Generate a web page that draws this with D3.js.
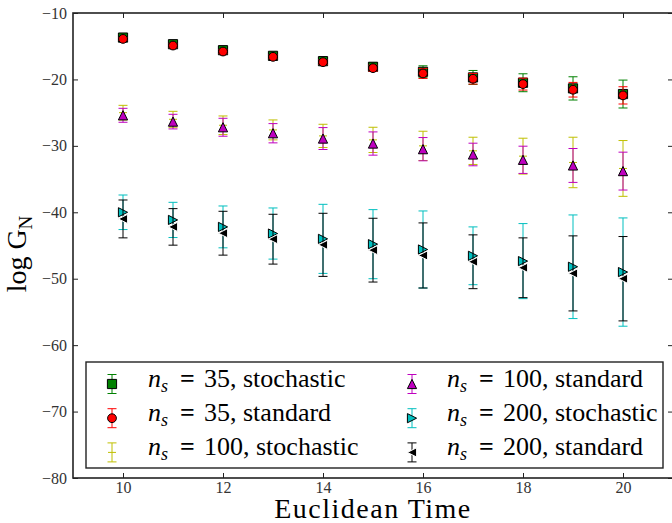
<!DOCTYPE html>
<html>
<head>
<meta charset="utf-8">
<script src="https://cdn.jsdelivr.net/npm/d3@7"></script>
<style>
  body { margin: 0; background: #fff; }
  svg { display: block; }
  svg text { font-family: "Liberation Serif", "Times New Roman", Times, "DejaVu Serif", serif; }
  .axis text { font-size: 16px; fill: #333; }
  .axis line { stroke: #222; stroke-width: 1; }
  .axis path { display: none; }
</style>
</head>
<body>
<svg id="chart" width="672" height="523"></svg>
<script>
(function() {
  var times = [10, 11, 12, 13, 14, 15, 16, 17, 18, 19, 20];

  var ns35Stochastic = [-13.7, -14.7, -15.6, -16.45, -17.25, -18.1, -18.85, -19.7, -20.5, -21.35, -22.2];
  var ns35StochasticErr = [0.3, 0.35, 0.4, 0.45, 0.5, 0.6, 0.9, 1.05, 1.35, 1.75, 2.1];

  var ns35Standard = [-13.9, -14.9, -15.8, -16.6, -17.4, -18.3, -19.1, -19.9, -20.7, -21.55, -22.4];
  var ns35StandardErr = [0.2, 0.25, 0.3, 0.3, 0.35, 0.45, 0.75, 0.8, 0.9, 1.1, 1.3];

  var ns100Stochastic = [-25.0, -26.0, -26.9, -27.6, -28.5, -29.1, -30.0, -30.75, -31.55, -32.5, -33.4];
  var ns100StochasticErr = [1.1, 1.2, 1.4, 1.5, 1.75, 1.9, 2.2, 2.05, 2.7, 3.8, 4.2];

  var ns100Standard = [-25.4, -26.35, -27.2, -28.1, -28.9, -29.65, -30.5, -31.3, -32.1, -32.95, -33.8];
  var ns100StandardErr = [1.05, 1.1, 1.35, 1.45, 1.65, 1.75, 1.75, 1.7, 2.05, 2.55, 2.85];

  var ns200Stochastic = [-40.0, -41.15, -42.2, -43.2, -44.0, -44.8, -45.6, -46.55, -47.35, -48.2, -49.0];
  var ns200StochasticErr = [2.6, 2.65, 3.15, 3.85, 5.2, 5.2, 5.8, 4.35, 5.65, 7.8, 8.15];

  var ns200Standard = [-41.0, -42.2, -43.15, -44.05, -44.9, -45.7, -46.5, -47.45, -48.35, -49.2, -50.0];
  var ns200StandardErr = [2.85, 2.75, 3.3, 3.75, 4.75, 4.8, 4.9, 4.05, 4.5, 5.65, 6.35];

  var xTicks = [10, 12, 14, 16, 18, 20];
  var yTicks = [-80, -70, -60, -50, -40, -30, -20, -10];

  var legendNs = ['35', '35', '100', '100', '200', '200'];
  var legendKinds = ['stochastic', 'standard', 'stochastic', 'standard', 'stochastic', 'standard'];

  var series = [
    { values: ns35Stochastic, errors: ns35StochasticErr, color: '#008000', marker: 'square', fill: '#008000', edge: '#000' },
    { values: ns35Standard, errors: ns35StandardErr, color: '#ff0000', marker: 'circle', fill: '#ff0000', edge: '#000' },
    { values: ns100Stochastic, errors: ns100StochasticErr, color: '#bfbf00', marker: 'hline', fill: 'none', edge: '#bfbf00' },
    { values: ns100Standard, errors: ns100StandardErr, color: '#bf00bf', marker: 'up', fill: '#bf00bf', edge: '#000' },
    { values: ns200Stochastic, errors: ns200StochasticErr, color: '#00bfbf', marker: 'right', fill: '#00bfbf', edge: '#000' },
    { values: ns200Standard, errors: ns200StandardErr, color: '#000000', marker: 'left', fill: '#000000', edge: '#fff' }
  ];

  var margin = { left: 73, top: 13, width: 600, height: 465 };
  var svg = d3.select('#chart');

  var x = d3.scaleLinear().domain([9, 21]).range([margin.left, margin.left + margin.width]);
  var y = d3.scaleLinear().domain([-80, -10]).range([margin.top + margin.height, margin.top]);

  var markerPath = function(kind) {
    var h = 4.6;
    switch (kind) {
      case 'square': return 'M' + -h + ',' + -h + 'H' + h + 'V' + h + 'H' + -h + 'Z';
      case 'circle': return d3.symbol(d3.symbolCircle, Math.PI * 4.4 * 4.4)();
      case 'up': return 'M0,' + -h + 'L' + h + ',' + h + 'L' + -h + ',' + h + 'Z';
      case 'right': return 'M' + h + ',0L' + -h + ',' + -h + 'L' + -h + ',' + h + 'Z';
      case 'left': return 'M' + -h + ',0L' + h + ',' + -h + 'L' + h + ',' + h + 'Z';
      default: return 'M-4,0H4';
    }
  };

  // axes: ticks point inward on all four sides
  svg.append('g').attr('class', 'axis').attr('transform', 'translate(0,' + y.range()[0] + ')')
    .call(d3.axisBottom(x).tickValues(xTicks).tickSize(-5).tickPadding(4));
  svg.append('g').attr('class', 'axis').attr('transform', 'translate(0,' + margin.top + ')')
    .call(d3.axisTop(x).tickValues(xTicks).tickSize(-5).tickFormat(''));
  svg.append('g').attr('class', 'axis').attr('transform', 'translate(' + margin.left + ',0)')
    .call(d3.axisLeft(y).tickValues(yTicks).tickSize(-5).tickPadding(6));
  svg.append('g').attr('class', 'axis').attr('transform', 'translate(' + (margin.left + margin.width) + ',0)')
    .call(d3.axisRight(y).tickValues(yTicks).tickSize(-5).tickFormat(''));
  svg.selectAll('.axis').attr('font-family', null).attr('font-size', null);

  svg.append('rect')
    .attr('x', margin.left).attr('y', margin.top)
    .attr('width', margin.width).attr('height', margin.height)
    .attr('fill', 'none').attr('stroke', '#222').attr('stroke-width', 1.6);

  var errorbar = function(g, s, cx, cy, lo, hi) {
    g.append('line').attr('x1', cx).attr('x2', cx).attr('y1', lo).attr('y2', hi)
      .attr('stroke', s.color).attr('stroke-width', 1);
    [lo, hi].forEach(function(cap) {
      g.append('line').attr('x1', cx - 4.5).attr('x2', cx + 4.5).attr('y1', cap).attr('y2', cap)
        .attr('stroke', s.color).attr('stroke-width', 1);
    });
    g.append('path').attr('transform', 'translate(' + cx + ',' + cy + ')')
      .attr('d', markerPath(s.marker))
      .attr('fill', s.fill)
      .attr('stroke', s.marker === 'hline' ? s.color : s.edge)
      .attr('stroke-width', 1);
  };

  series.forEach(function(s) {
    var g = svg.append('g');
    times.forEach(function(t, i) {
      var v = s.values[i], e = s.errors[i];
      errorbar(g, s, x(t), y(v), y(v - e), y(v + e));
    });
  });

  // legend, two columns of three
  var legend = svg.append('g');
  legend.append('rect')
    .attr('x', 86).attr('y', 362).attr('width', 577).attr('height', 106)
    .attr('fill', '#fff').attr('stroke', '#222').attr('stroke-width', 1.4);

  series.forEach(function(s, i) {
    var col = Math.floor(i / 3), row = i % 3;
    var mx = col === 0 ? 112 : 412;
    var tx = col === 0 ? 148 : 447;
    var base = 387 + row * 34.2;
    var cy = base - 3;
    errorbar(legend, s, mx, cy, cy + 9.5, cy - 9.5);

    var text = legend.append('text')
      .attr('y', base)
      .style('font-size', '26px')
      .attr('fill', '#000');
    text.append('tspan').attr('x', tx).style('font-style', 'italic').text('n');
    text.append('tspan').attr('x', tx + 13).attr('dy', 5).style('font-style', 'italic').style('font-size', '18px').text('s');
    text.append('tspan').attr('x', tx + 32).attr('dy', -5).style('font-weight', 'bold').text('=');
    text.append('tspan').attr('x', tx + 56).text(legendNs[i] + ', ' + legendKinds[i]);
  });

  // axis labels
  svg.append('text')
    .attr('x', x(15)).attr('y', 518)
    .attr('text-anchor', 'middle')
    .style('font-size', '28px')
    .style('letter-spacing', '1.5px')
    .text('Euclidean Time');

  var ylab = svg.append('text')
    .attr('transform', 'translate(26,254) rotate(-90)')
    .attr('text-anchor', 'middle')
    .style('font-size', '28px');
  ylab.append('tspan').text('log G');
  ylab.append('tspan').attr('dy', 6).style('font-size', '19px').text('N');
})();
</script>
</body>
</html>
